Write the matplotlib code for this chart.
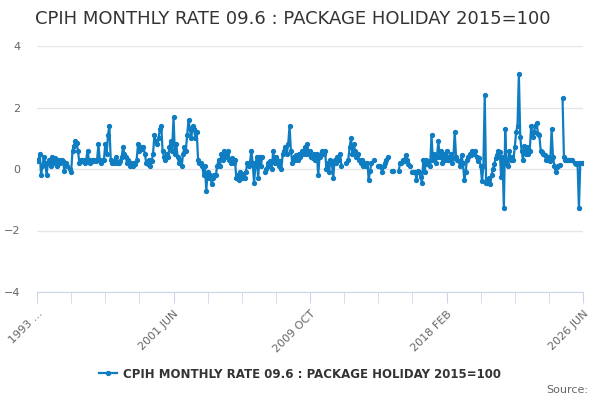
import numpy as np
import matplotlib.pyplot as plt
from matplotlib.ticker import MultipleLocator

nan = np.nan

title = "CPIH MONTHLY RATE 09.6 : PACKAGE HOLIDAY 2015=100"
series_name = "CPIH MONTHLY RATE 09.6 : PACKAGE HOLIDAY 2015=100"

# tick labels every 100 months, 1993 FEB .. 2026 JUN
tick_pos = [0, 100, 200, 300, 400]
tick_labels = ["1993 ...", "2001 JUN", "2009 OCT", "2018 FEB", "2026 JUN"]

# monthly rate (%), nan = missing month
values = [
    0.3, 0.25, 0.5, -0.2, 0.1, 0.4, 0.2, -0.2, 0.2, 0.3,
    0.1, 0.4, 0.2, 0.35, 0.25, 0.1, 0.3, 0.2, 0.3, 0.25,
    -0.05, 0.2, 0.1, nan, 0.0, -0.1, 0.6, 0.75, 0.9, 0.85,
    0.6, 0.2, 0.3, 0.25, 0.3, 0.2, 0.3, 0.6, 0.3, 0.2,
    0.3, 0.25, 0.3, 0.25, 0.3, 0.8, 0.3, 0.2, 0.3, 0.3,
    0.8, 0.5, 1.1, 1.4, 0.3, 0.2, 0.25, 0.2, 0.4, 0.2,
    0.2, 0.25, 0.4, 0.7, 0.5, 0.4, 0.2, 0.3, 0.1, 0.2,
    0.1, 0.2, 0.15, 0.3, 0.8, 0.6, 0.7, 0.65, 0.7, 0.5,
    0.2, 0.15, 0.3, 0.1, 0.25, 0.5, 1.1, 0.9, 0.8, 1.0,
    1.3, 1.4, 0.6, 0.4, 0.3, 0.5, 0.4, 0.7, 0.9, 0.6,
    1.7, 0.5, 0.8, 0.4, 0.2, 0.3, 0.1, 0.5, 0.7, 0.6,
    1.1, 1.6, 1.3, 1.0, 1.4, 1.3, 1.0, 1.2, 0.3, 0.2,
    0.2, 0.1, -0.2, 0.1, -0.7, -0.1, -0.3, -0.2, -0.5, -0.3,
    -0.2, -0.2, 0.1, 0.3, 0.1, 0.5, 0.3, 0.6, 0.4, 0.5,
    0.6, 0.3, 0.2, 0.35, 0.2, 0.3, -0.3, -0.2, -0.35, -0.1,
    -0.3, -0.15, -0.3, -0.1, 0.2, 0.1, 0.2, 0.6, 0.2, -0.45,
    0.1, 0.4, -0.3, 0.4, 0.1, 0.4, nan, -0.1, 0.0, 0.2,
    0.1, 0.25, 0.0, 0.6, 0.2, 0.4, 0.3, 0.1, 0.25, 0.0,
    0.5, 0.6, 0.7, 0.5, 0.8, 1.4, 0.6, 0.2, 0.4, 0.3,
    0.45, 0.3, 0.5, 0.4, 0.6, 0.5, 0.7, 0.5, 0.8, 0.5,
    0.6, 0.4, 0.35, 0.5, 0.3, 0.5, -0.2, 0.4, 0.5, 0.6,
    0.5, 0.6, 0.0, 0.2, -0.1, 0.3, 0.2, -0.3, 0.3, 0.2,
    0.4, 0.3, 0.5, 0.1, nan, nan, 0.2, nan, 0.3, 0.7,
    1.0, 0.5, 0.8, 0.6, 0.4, 0.5, 0.3, 0.2, 0.3, 0.1,
    0.2, 0.1, 0.2, -0.35, -0.05, 0.2, nan, 0.3, nan, nan,
    0.1, 0.1, 0.05, -0.1, 0.1, 0.2, 0.3, 0.4, nan, nan,
    -0.05, -0.05, nan, nan, nan, -0.05, 0.2, 0.2, 0.3, 0.25,
    0.45, 0.3, 0.15, 0.1, nan, -0.1, -0.1, -0.1, -0.35, -0.05,
    -0.1, -0.25, -0.45, 0.3, -0.1, 0.3, 0.15, 0.25, 0.1, 1.1,
    0.3, 0.5, 0.2, 0.4, 0.9, 0.4, 0.6, 0.2, 0.5, 0.3,
    0.6, 0.3, 0.4, 0.5, 0.2, 0.35, 1.2, 0.4, 0.3, 0.25,
    0.1, 0.45, 0.2, -0.35, -0.1, 0.3, 0.4, 0.5, 0.45, 0.6,
    0.5, 0.6, 0.4, 0.25, 0.35, 0.1, -0.4, 0.1, 2.4, -0.45,
    -0.45, -0.3, -0.5, -0.2, 0.0, 0.15, 0.35, 0.45, 0.6, 0.55,
    -0.25, 0.4, -1.28, 1.3, 0.15, 0.1, 0.6, 0.3, 0.4, 0.3,
    0.7, 1.2, 1.4, 3.1, 1.05, 0.6, 0.3, 0.75, 0.5, 0.7,
    0.5, 0.6, 1.4, 1.05, 1.2, 1.4, 1.5, 1.15, 1.1, 0.6,
    0.55, 0.5, 0.45, 0.3, 0.4, 0.3, 0.25, 1.3, 0.4, 0.1,
    -0.1, 0.05, 0.1, 0.13, nan, 2.3, 0.4, 0.3, 0.3, 0.3,
    0.3, 0.3, 0.3, nan, 0.2, 0.15, 0.2, -1.28, 0.2, 0.2,
    0.2,
]

months = np.arange(len(values))

blue = "#0f7dc2"
fig = plt.figure(figsize=(6, 4), dpi=100)
ax = fig.add_axes([0.0617, 0.27, 0.91, 0.615])

line, = ax.plot(months, values, color=blue, lw=1.6, marker="o", ms=2.8,
                label=series_name)

ax.set_xlim(0, len(values) - 1)
ax.set_ylim(-4, 4)
ax.set_yticks([-4, -2, 0, 2, 4])
ax.grid(axis="y", color="#e6e6e6", lw=1)
ax.set_axisbelow(True)
for s in ["top", "right", "left"]:
    ax.spines[s].set_visible(False)
ax.spines["bottom"].set_color("#ccd6eb")
ax.tick_params(axis="y", length=0, pad=12, labelsize=8, labelcolor="#666666")

ax.set_xticks(tick_pos)
ax.set_xticklabels(tick_labels, rotation=45, ha="right", rotation_mode="anchor")
ax.xaxis.set_minor_locator(MultipleLocator(25))
ax.tick_params(axis="x", which="both", length=8, color="#ccd6eb",
               labelsize=8, labelcolor="#666666", pad=4)

fig.text(0.058, 0.953, title, fontsize=13, color="#333333", va="center")

fig.legend(handles=[line], loc="center", bbox_to_anchor=(0.5, 0.065),
           frameon=False, prop={"weight": "bold", "size": 8.5},
           labelcolor="#333333", handlelength=1.6, handletextpad=0.5)
fig.text(0.98, 0.025, "Source:", fontsize=8, color="#666666", ha="right",
         va="center")

fig.savefig("out.png", dpi=100)
